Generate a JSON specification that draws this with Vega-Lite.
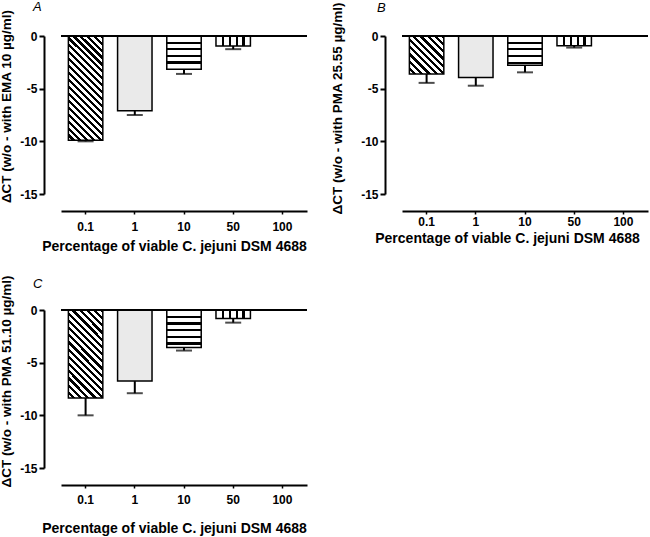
{
"$schema": "https://vega.github.io/schema/vega-lite/v6.json",
"padding": {"left": -1, "top": 1, "right": 0, "bottom": 0},
"columns": 2,
"bounds": "flush",
"spacing": {"row": 116, "column": 95},
"datasets": {
 "A": [{"pct":"0.1","mean":-9.9,"low":-10.0},{"pct":"1","mean":-7.1,"low":-7.5},{"pct":"10","mean":-3.15,"low":-3.6},{"pct":"50","mean":-0.95,"low":-1.25}],
 "B": [{"pct":"0.1","mean":-3.6,"low":-4.45},{"pct":"1","mean":-3.93,"low":-4.72},{"pct":"10","mean":-2.78,"low":-3.45},{"pct":"50","mean":-0.92,"low":-1.1}],
 "C": [{"pct":"0.1","mean":-8.35,"low":-10.0},{"pct":"1","mean":-6.75,"low":-7.9},{"pct":"10","mean":-3.55,"low":-3.85},{"pct":"50","mean":-0.8,"low":-1.2}]
},
"concat": [
{
 "title": {"text": "A", "dx": -28, "offset": -5.3},
 "width": 246, "height": 158,
 "data": {"name": "A"},
 "layer": [
  {"transform": [{"filter": "datum.pct == '0.1'"}],
   "mark": {"type": "bar", "stroke": "#000", "strokeWidth": 1.5, "fill": {"gradient": "linear", "x1": 0, "y1": 1, "x2": 0.3956, "y2": -0.1994, "stops": [
    {"offset":0,"color":"#fff"},{"offset":0.0275,"color":"#fff"},{"offset":0.0275,"color":"#000"},{"offset":0.05,"color":"#000"},
    {"offset":0.05,"color":"#fff"},{"offset":0.0775,"color":"#fff"},{"offset":0.0775,"color":"#000"},{"offset":0.1,"color":"#000"},
    {"offset":0.1,"color":"#fff"},{"offset":0.1275,"color":"#fff"},{"offset":0.1275,"color":"#000"},{"offset":0.15,"color":"#000"},
    {"offset":0.15,"color":"#fff"},{"offset":0.1775,"color":"#fff"},{"offset":0.1775,"color":"#000"},{"offset":0.2,"color":"#000"},
    {"offset":0.2,"color":"#fff"},{"offset":0.2275,"color":"#fff"},{"offset":0.2275,"color":"#000"},{"offset":0.25,"color":"#000"},
    {"offset":0.25,"color":"#fff"},{"offset":0.2775,"color":"#fff"},{"offset":0.2775,"color":"#000"},{"offset":0.3,"color":"#000"},
    {"offset":0.3,"color":"#fff"},{"offset":0.3275,"color":"#fff"},{"offset":0.3275,"color":"#000"},{"offset":0.35,"color":"#000"},
    {"offset":0.35,"color":"#fff"},{"offset":0.3775,"color":"#fff"},{"offset":0.3775,"color":"#000"},{"offset":0.4,"color":"#000"},
    {"offset":0.4,"color":"#fff"},{"offset":0.4275,"color":"#fff"},{"offset":0.4275,"color":"#000"},{"offset":0.45,"color":"#000"},
    {"offset":0.45,"color":"#fff"},{"offset":0.4775,"color":"#fff"},{"offset":0.4775,"color":"#000"},{"offset":0.5,"color":"#000"},
    {"offset":0.5,"color":"#fff"},{"offset":0.5275,"color":"#fff"},{"offset":0.5275,"color":"#000"},{"offset":0.55,"color":"#000"},
    {"offset":0.55,"color":"#fff"},{"offset":0.5775,"color":"#fff"},{"offset":0.5775,"color":"#000"},{"offset":0.6,"color":"#000"},
    {"offset":0.6,"color":"#fff"},{"offset":0.6275,"color":"#fff"},{"offset":0.6275,"color":"#000"},{"offset":0.65,"color":"#000"},
    {"offset":0.65,"color":"#fff"},{"offset":0.6775,"color":"#fff"},{"offset":0.6775,"color":"#000"},{"offset":0.7,"color":"#000"},
    {"offset":0.7,"color":"#fff"},{"offset":0.7275,"color":"#fff"},{"offset":0.7275,"color":"#000"},{"offset":0.75,"color":"#000"},
    {"offset":0.75,"color":"#fff"},{"offset":0.7775,"color":"#fff"},{"offset":0.7775,"color":"#000"},{"offset":0.8,"color":"#000"},
    {"offset":0.8,"color":"#fff"},{"offset":0.8275,"color":"#fff"},{"offset":0.8275,"color":"#000"},{"offset":0.85,"color":"#000"},
    {"offset":0.85,"color":"#fff"},{"offset":0.8775,"color":"#fff"},{"offset":0.8775,"color":"#000"},{"offset":0.9,"color":"#000"},
    {"offset":0.9,"color":"#fff"},{"offset":0.9275,"color":"#fff"},{"offset":0.9275,"color":"#000"},{"offset":0.95,"color":"#000"},
    {"offset":0.95,"color":"#fff"},{"offset":0.9775,"color":"#fff"},{"offset":0.9775,"color":"#000"},{"offset":1,"color":"#000"}]}},
   "encoding": {
    "x": {"field": "pct", "type": "nominal", "scale": {"domain": ["0.1","1","10","50","100"], "paddingInner": 0.3, "paddingOuter": 0.15},
          "axis": {"title": "Percentage of viable C. jejuni DSM 4688", "labelPadding": 7, "titlePadding": 7, "titleX": 113}},
    "y": {"field": "mean", "type": "quantitative", "scale": {"domain": [-15, 0], "nice": false, "zero": false},
          "axis": {"title": "ΔCT (w/o - with EMA 10 µg/ml)", "values": [0,-5,-10,-15], "labelExpr": "toString(datum.value)", "titlePadding": 6, "titleY": 70}}
   }},
  {"transform": [{"filter": "datum.pct == '1'"}],
   "mark": {"type": "bar", "stroke": "#000", "strokeWidth": 1.5, "fill": "#eaeaea"},
   "encoding": {"x": {"field": "pct", "type": "nominal"}, "y": {"field": "mean", "type": "quantitative"}}},
  {"transform": [{"filter": "datum.pct == '10'"}],
   "mark": {"type": "bar", "stroke": "#000", "strokeWidth": 1.5, "fill": {"gradient": "linear", "x1": 0, "y1": 0, "x2": 0, "y2": 1, "stops": [
    {"offset":0,"color":"#fff"},{"offset":0.167,"color":"#fff"},{"offset":0.167,"color":"#000"},{"offset":0.233,"color":"#000"},
    {"offset":0.233,"color":"#fff"},{"offset":0.367,"color":"#fff"},{"offset":0.367,"color":"#000"},{"offset":0.433,"color":"#000"},
    {"offset":0.433,"color":"#fff"},{"offset":0.567,"color":"#fff"},{"offset":0.567,"color":"#000"},{"offset":0.633,"color":"#000"},
    {"offset":0.633,"color":"#fff"},{"offset":0.767,"color":"#fff"},{"offset":0.767,"color":"#000"},{"offset":0.833,"color":"#000"},
    {"offset":0.833,"color":"#fff"},{"offset":1,"color":"#fff"}]}},
   "encoding": {"x": {"field": "pct", "type": "nominal"}, "y": {"field": "mean", "type": "quantitative"}}},
  {"transform": [{"filter": "datum.pct == '50'"}],
   "mark": {"type": "bar", "stroke": "#000", "strokeWidth": 1.5, "fill": {"gradient": "linear", "x1": 0, "y1": 0, "x2": 1, "y2": 0, "stops": [
    {"offset":0,"color":"#fff"},{"offset":0.168,"color":"#fff"},{"offset":0.168,"color":"#000"},{"offset":0.232,"color":"#000"},
    {"offset":0.232,"color":"#fff"},{"offset":0.368,"color":"#fff"},{"offset":0.368,"color":"#000"},{"offset":0.432,"color":"#000"},
    {"offset":0.432,"color":"#fff"},{"offset":0.568,"color":"#fff"},{"offset":0.568,"color":"#000"},{"offset":0.632,"color":"#000"},
    {"offset":0.632,"color":"#fff"},{"offset":0.768,"color":"#fff"},{"offset":0.768,"color":"#000"},{"offset":0.832,"color":"#000"},
    {"offset":0.832,"color":"#fff"},{"offset":1,"color":"#fff"}]}},
   "encoding": {"x": {"field": "pct", "type": "nominal"}, "y": {"field": "mean", "type": "quantitative"}}},
  {"mark": {"type": "rule", "color": "#000", "strokeWidth": 2},
   "encoding": {"x": {"field": "pct", "type": "nominal"}, "y": {"field": "mean", "type": "quantitative"}, "y2": {"field": "low"}}},
  {"mark": {"type": "tick", "color": "#000", "thickness": 2, "size": 16},
   "encoding": {"x": {"field": "pct", "type": "nominal"}, "y": {"field": "low", "type": "quantitative"}}},
  {"mark": {"type": "rule", "color": "#000", "strokeWidth": 2},
   "encoding": {"y": {"datum": 0, "type": "quantitative"}}}
 ]
},
{
 "title": {"text": "B", "dx": -25, "offset": -13.7},
 "width": 246, "height": 158,
 "data": {"name": "B"},
 "layer": [
  {"transform": [{"filter": "datum.pct == '0.1'"}],
   "mark": {"type": "bar", "stroke": "#000", "strokeWidth": 1.5, "fill": {"gradient": "linear", "x1": 0, "y1": 1, "x2": 0.9494, "y2": -0.046, "stops": [
    {"offset":0,"color":"#fff"},{"offset":0.055,"color":"#fff"},{"offset":0.055,"color":"#000"},{"offset":0.1,"color":"#000"},
    {"offset":0.1,"color":"#fff"},{"offset":0.155,"color":"#fff"},{"offset":0.155,"color":"#000"},{"offset":0.2,"color":"#000"},
    {"offset":0.2,"color":"#fff"},{"offset":0.255,"color":"#fff"},{"offset":0.255,"color":"#000"},{"offset":0.3,"color":"#000"},
    {"offset":0.3,"color":"#fff"},{"offset":0.355,"color":"#fff"},{"offset":0.355,"color":"#000"},{"offset":0.4,"color":"#000"},
    {"offset":0.4,"color":"#fff"},{"offset":0.455,"color":"#fff"},{"offset":0.455,"color":"#000"},{"offset":0.5,"color":"#000"},
    {"offset":0.5,"color":"#fff"},{"offset":0.555,"color":"#fff"},{"offset":0.555,"color":"#000"},{"offset":0.6,"color":"#000"},
    {"offset":0.6,"color":"#fff"},{"offset":0.655,"color":"#fff"},{"offset":0.655,"color":"#000"},{"offset":0.7,"color":"#000"},
    {"offset":0.7,"color":"#fff"},{"offset":0.755,"color":"#fff"},{"offset":0.755,"color":"#000"},{"offset":0.8,"color":"#000"},
    {"offset":0.8,"color":"#fff"},{"offset":0.855,"color":"#fff"},{"offset":0.855,"color":"#000"},{"offset":0.9,"color":"#000"},
    {"offset":0.9,"color":"#fff"},{"offset":0.955,"color":"#fff"},{"offset":0.955,"color":"#000"},{"offset":1,"color":"#000"}]}},
   "encoding": {
    "x": {"field": "pct", "type": "nominal", "scale": {"domain": ["0.1","1","10","50","100"], "paddingInner": 0.3, "paddingOuter": 0.15},
          "axis": {"title": "Percentage of viable C. jejuni DSM 4688", "labelPadding": 2, "titlePadding": 4, "titleX": 105}},
    "y": {"field": "mean", "type": "quantitative", "scale": {"domain": [-15, 0], "nice": false, "zero": false},
          "axis": {"title": "ΔCT (w/o - with PMA 25.55 µg/ml)", "values": [0,-5,-10,-15], "labelExpr": "toString(datum.value)", "titlePadding": 16, "titleY": 72}}
   }},
  {"transform": [{"filter": "datum.pct == '1'"}],
   "mark": {"type": "bar", "stroke": "#000", "strokeWidth": 1.5, "fill": "#eaeaea"},
   "encoding": {"x": {"field": "pct", "type": "nominal"}, "y": {"field": "mean", "type": "quantitative"}}},
  {"transform": [{"filter": "datum.pct == '10'"}],
   "mark": {"type": "bar", "stroke": "#000", "strokeWidth": 1.5, "fill": {"gradient": "linear", "x1": 0, "y1": 0, "x2": 0, "y2": 1, "stops": [
    {"offset":0,"color":"#fff"},{"offset":0.19,"color":"#fff"},{"offset":0.19,"color":"#000"},{"offset":0.264,"color":"#000"},
    {"offset":0.264,"color":"#fff"},{"offset":0.417,"color":"#fff"},{"offset":0.417,"color":"#000"},{"offset":0.491,"color":"#000"},
    {"offset":0.491,"color":"#fff"},{"offset":0.644,"color":"#fff"},{"offset":0.644,"color":"#000"},{"offset":0.718,"color":"#000"},
    {"offset":0.718,"color":"#fff"},{"offset":0.871,"color":"#fff"},{"offset":0.871,"color":"#000"},{"offset":0.945,"color":"#000"},
    {"offset":0.945,"color":"#fff"},{"offset":1,"color":"#fff"}]}},
   "encoding": {"x": {"field": "pct", "type": "nominal"}, "y": {"field": "mean", "type": "quantitative"}}},
  {"transform": [{"filter": "datum.pct == '50'"}],
   "mark": {"type": "bar", "stroke": "#000", "strokeWidth": 1.5, "fill": {"gradient": "linear", "x1": 0, "y1": 0, "x2": 1, "y2": 0, "stops": [
    {"offset":0,"color":"#fff"},{"offset":0.168,"color":"#fff"},{"offset":0.168,"color":"#000"},{"offset":0.232,"color":"#000"},
    {"offset":0.232,"color":"#fff"},{"offset":0.368,"color":"#fff"},{"offset":0.368,"color":"#000"},{"offset":0.432,"color":"#000"},
    {"offset":0.432,"color":"#fff"},{"offset":0.568,"color":"#fff"},{"offset":0.568,"color":"#000"},{"offset":0.632,"color":"#000"},
    {"offset":0.632,"color":"#fff"},{"offset":0.768,"color":"#fff"},{"offset":0.768,"color":"#000"},{"offset":0.832,"color":"#000"},
    {"offset":0.832,"color":"#fff"},{"offset":1,"color":"#fff"}]}},
   "encoding": {"x": {"field": "pct", "type": "nominal"}, "y": {"field": "mean", "type": "quantitative"}}},
  {"mark": {"type": "rule", "color": "#000", "strokeWidth": 2},
   "encoding": {"x": {"field": "pct", "type": "nominal"}, "y": {"field": "mean", "type": "quantitative"}, "y2": {"field": "low"}}},
  {"mark": {"type": "tick", "color": "#000", "thickness": 2, "size": 16},
   "encoding": {"x": {"field": "pct", "type": "nominal"}, "y": {"field": "low", "type": "quantitative"}}},
  {"mark": {"type": "rule", "color": "#000", "strokeWidth": 2},
   "encoding": {"y": {"datum": 0, "type": "quantitative"}}}
 ]
},
{
 "title": {"text": "C", "dx": -28, "offset": -16},
 "width": 246, "height": 158,
 "data": {"name": "C"},
 "layer": [
  {"transform": [{"filter": "datum.pct == '0.1'"}],
   "mark": {"type": "bar", "stroke": "#000", "strokeWidth": 1.5, "fill": {"gradient": "linear", "x1": 0, "y1": 1, "x2": 0.4749, "y2": -0.2066, "stops": [
    {"offset":0,"color":"#fff"},{"offset":0.0324,"color":"#fff"},{"offset":0.0324,"color":"#000"},{"offset":0.0588,"color":"#000"},
    {"offset":0.0588,"color":"#fff"},{"offset":0.0912,"color":"#fff"},{"offset":0.0912,"color":"#000"},{"offset":0.1176,"color":"#000"},
    {"offset":0.1176,"color":"#fff"},{"offset":0.15,"color":"#fff"},{"offset":0.15,"color":"#000"},{"offset":0.1765,"color":"#000"},
    {"offset":0.1765,"color":"#fff"},{"offset":0.2088,"color":"#fff"},{"offset":0.2088,"color":"#000"},{"offset":0.2353,"color":"#000"},
    {"offset":0.2353,"color":"#fff"},{"offset":0.2676,"color":"#fff"},{"offset":0.2676,"color":"#000"},{"offset":0.2941,"color":"#000"},
    {"offset":0.2941,"color":"#fff"},{"offset":0.3265,"color":"#fff"},{"offset":0.3265,"color":"#000"},{"offset":0.3529,"color":"#000"},
    {"offset":0.3529,"color":"#fff"},{"offset":0.3853,"color":"#fff"},{"offset":0.3853,"color":"#000"},{"offset":0.4118,"color":"#000"},
    {"offset":0.4118,"color":"#fff"},{"offset":0.4441,"color":"#fff"},{"offset":0.4441,"color":"#000"},{"offset":0.4706,"color":"#000"},
    {"offset":0.4706,"color":"#fff"},{"offset":0.5029,"color":"#fff"},{"offset":0.5029,"color":"#000"},{"offset":0.5294,"color":"#000"},
    {"offset":0.5294,"color":"#fff"},{"offset":0.5618,"color":"#fff"},{"offset":0.5618,"color":"#000"},{"offset":0.5882,"color":"#000"},
    {"offset":0.5882,"color":"#fff"},{"offset":0.6206,"color":"#fff"},{"offset":0.6206,"color":"#000"},{"offset":0.6471,"color":"#000"},
    {"offset":0.6471,"color":"#fff"},{"offset":0.6794,"color":"#fff"},{"offset":0.6794,"color":"#000"},{"offset":0.7059,"color":"#000"},
    {"offset":0.7059,"color":"#fff"},{"offset":0.7382,"color":"#fff"},{"offset":0.7382,"color":"#000"},{"offset":0.7647,"color":"#000"},
    {"offset":0.7647,"color":"#fff"},{"offset":0.7971,"color":"#fff"},{"offset":0.7971,"color":"#000"},{"offset":0.8235,"color":"#000"},
    {"offset":0.8235,"color":"#fff"},{"offset":0.8559,"color":"#fff"},{"offset":0.8559,"color":"#000"},{"offset":0.8824,"color":"#000"},
    {"offset":0.8824,"color":"#fff"},{"offset":0.9147,"color":"#fff"},{"offset":0.9147,"color":"#000"},{"offset":0.9412,"color":"#000"},
    {"offset":0.9412,"color":"#fff"},{"offset":0.9735,"color":"#fff"},{"offset":0.9735,"color":"#000"},{"offset":1,"color":"#000"}]}},
   "encoding": {
    "x": {"field": "pct", "type": "nominal", "scale": {"domain": ["0.1","1","10","50","100"], "paddingInner": 0.3, "paddingOuter": 0.15},
          "axis": {"title": "Percentage of viable C. jejuni DSM 4688", "labelPadding": 6.5, "titlePadding": 16, "titleX": 113}},
    "y": {"field": "mean", "type": "quantitative", "scale": {"domain": [-15, 0], "nice": false, "zero": false},
          "axis": {"title": "ΔCT (w/o - with PMA 51.10 µg/ml)", "values": [0,-5,-10,-15], "labelExpr": "toString(datum.value)", "titlePadding": 6, "titleY": 71}}
   }},
  {"transform": [{"filter": "datum.pct == '1'"}],
   "mark": {"type": "bar", "stroke": "#000", "strokeWidth": 1.5, "fill": "#eaeaea"},
   "encoding": {"x": {"field": "pct", "type": "nominal"}, "y": {"field": "mean", "type": "quantitative"}}},
  {"transform": [{"filter": "datum.pct == '10'"}],
   "mark": {"type": "bar", "stroke": "#000", "strokeWidth": 1.5, "fill": {"gradient": "linear", "x1": 0, "y1": 0, "x2": 0, "y2": 1, "stops": [
    {"offset":0,"color":"#fff"},{"offset":0.15,"color":"#fff"},{"offset":0.15,"color":"#000"},{"offset":0.21,"color":"#000"},
    {"offset":0.21,"color":"#fff"},{"offset":0.33,"color":"#fff"},{"offset":0.33,"color":"#000"},{"offset":0.389,"color":"#000"},
    {"offset":0.389,"color":"#fff"},{"offset":0.509,"color":"#fff"},{"offset":0.509,"color":"#000"},{"offset":0.568,"color":"#000"},
    {"offset":0.568,"color":"#fff"},{"offset":0.689,"color":"#fff"},{"offset":0.689,"color":"#000"},{"offset":0.748,"color":"#000"},
    {"offset":0.748,"color":"#fff"},{"offset":0.868,"color":"#fff"},{"offset":0.868,"color":"#000"},{"offset":0.927,"color":"#000"},
    {"offset":0.927,"color":"#fff"},{"offset":1,"color":"#fff"}]}},
   "encoding": {"x": {"field": "pct", "type": "nominal"}, "y": {"field": "mean", "type": "quantitative"}}},
  {"transform": [{"filter": "datum.pct == '50'"}],
   "mark": {"type": "bar", "stroke": "#000", "strokeWidth": 1.5, "fill": {"gradient": "linear", "x1": 0, "y1": 0, "x2": 1, "y2": 0, "stops": [
    {"offset":0,"color":"#fff"},{"offset":0.168,"color":"#fff"},{"offset":0.168,"color":"#000"},{"offset":0.232,"color":"#000"},
    {"offset":0.232,"color":"#fff"},{"offset":0.368,"color":"#fff"},{"offset":0.368,"color":"#000"},{"offset":0.432,"color":"#000"},
    {"offset":0.432,"color":"#fff"},{"offset":0.568,"color":"#fff"},{"offset":0.568,"color":"#000"},{"offset":0.632,"color":"#000"},
    {"offset":0.632,"color":"#fff"},{"offset":0.768,"color":"#fff"},{"offset":0.768,"color":"#000"},{"offset":0.832,"color":"#000"},
    {"offset":0.832,"color":"#fff"},{"offset":1,"color":"#fff"}]}},
   "encoding": {"x": {"field": "pct", "type": "nominal"}, "y": {"field": "mean", "type": "quantitative"}}},
  {"mark": {"type": "rule", "color": "#000", "strokeWidth": 2},
   "encoding": {"x": {"field": "pct", "type": "nominal"}, "y": {"field": "mean", "type": "quantitative"}, "y2": {"field": "low"}}},
  {"mark": {"type": "tick", "color": "#000", "thickness": 2, "size": 16},
   "encoding": {"x": {"field": "pct", "type": "nominal"}, "y": {"field": "low", "type": "quantitative"}}},
  {"mark": {"type": "rule", "color": "#000", "strokeWidth": 2},
   "encoding": {"y": {"datum": 0, "type": "quantitative"}}}
 ]
}
],
"config": {
 "font": "Liberation Sans",
 "view": {"stroke": null},
 "axis": {"domainColor": "#000", "domainWidth": 2, "tickColor": "#000", "labelColor": "#000", "titleColor": "#000",
          "labelFont": "Liberation Sans", "labelFontWeight": "bold", "labelFontSize": 12,
          "titleFont": "Liberation Sans", "titleFontWeight": "bold", "grid": false, "labelFlush": false, "labelOverlap": false},
 "axisY": {"offset": 17, "tickSize": 5, "tickWidth": 2, "labelPadding": 2, "titleFontSize": 13.5},
 "axisX": {"offset": 17, "tickSize": 3, "tickWidth": 1.5, "labelAngle": 0, "titleFontSize": 14},
 "title": {"font": "Liberation Sans", "fontSize": 13, "fontStyle": "italic", "fontWeight": "normal", "anchor": "start", "frame": "group", "color": "#000"}
}
}
